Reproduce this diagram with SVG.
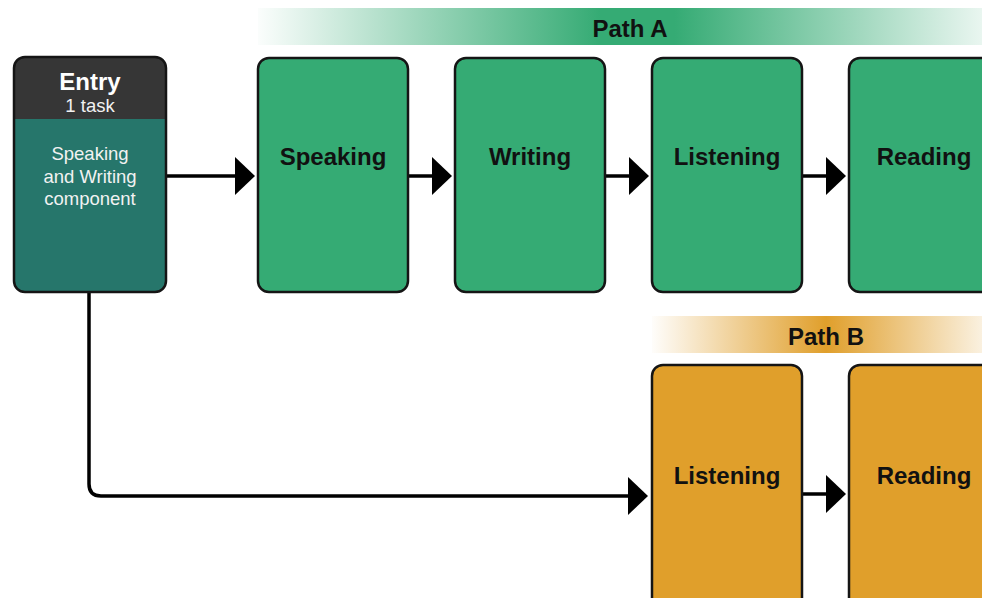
<svg xmlns="http://www.w3.org/2000/svg" width="982" height="598" viewBox="0 0 982 598">
  <style>
    .box { stroke: #151515; stroke-width: 2.5; }
    .green { fill: #35ab74; }
    .orange { fill: #e09f2b; }
    .label { font-family: "Liberation Sans", Arial, sans-serif; font-weight: bold; font-size: 24px; fill: #111; text-anchor: middle; }
    .entry-title { font-family: "Liberation Sans", Arial, sans-serif; font-weight: bold; font-size: 24px; fill: #fff; text-anchor: middle; }
    .entry-text { font-family: "Liberation Sans", Arial, sans-serif; font-size: 18.5px; fill: #f2f2f2; text-anchor: middle; }
    .link { fill: none; stroke: #000; stroke-width: 3.5; }
  </style>
  <defs>
    <linearGradient id="gradA" gradientUnits="userSpaceOnUse" x1="258" y1="0" x2="1002" y2="0">
      <stop offset="0" stop-color="#35ab74" stop-opacity="0.02"/>
      <stop offset="0.46" stop-color="#35ab74" stop-opacity="1"/>
      <stop offset="0.56" stop-color="#35ab74" stop-opacity="1"/>
      <stop offset="1" stop-color="#35ab74" stop-opacity="0.05"/>
    </linearGradient>
    <linearGradient id="gradB" gradientUnits="userSpaceOnUse" x1="652" y1="0" x2="1000" y2="0">
      <stop offset="0" stop-color="#e09f2b" stop-opacity="0.02"/>
      <stop offset="0.5" stop-color="#e09f2b" stop-opacity="1"/>
      <stop offset="1" stop-color="#e09f2b" stop-opacity="0.05"/>
    </linearGradient>
    <marker id="head" markerUnits="userSpaceOnUse" markerWidth="21" markerHeight="40" refX="0" refY="19" orient="auto" viewBox="0 0 21 40">
      <path d="M0,0 L20,19 L0,38 Z" fill="#000"/>
    </marker>
    <clipPath id="entryClip">
      <rect x="14" y="57" width="152" height="235" rx="11"/>
    </clipPath>
  </defs>

  <!-- path banners -->
  <g id="pathA">
    <rect x="258" y="8" width="744" height="37" fill="url(#gradA)"/>
    <text class="label" x="630" y="37">Path A</text>
  </g>
  <g id="pathB">
    <rect x="652" y="316" width="348" height="37" fill="url(#gradB)"/>
    <text class="label" x="826" y="345">Path B</text>
  </g>

  <!-- connectors -->
  <g id="connectors">
    <path class="link" d="M166,176 H235" marker-end="url(#head)"/>
    <path class="link" d="M408,176 H432" marker-end="url(#head)"/>
    <path class="link" d="M605,176 H629" marker-end="url(#head)"/>
    <path class="link" d="M802,176 H826" marker-end="url(#head)"/>
    <path class="link" d="M89,292 V484 Q89,496 101,496 H628" marker-end="url(#head)"/>
    <path class="link" d="M802,494 H826" marker-end="url(#head)"/>
  </g>

  <!-- entry node -->
  <g id="entry">
    <g clip-path="url(#entryClip)">
      <rect x="14" y="57" width="152" height="235" fill="#26766b"/>
      <rect x="14" y="57" width="152" height="62" fill="#363636"/>
    </g>
    <rect class="box" x="14" y="57" width="152" height="235" rx="11" fill="none"/>
    <text class="entry-title" x="90" y="90">Entry</text>
    <text class="entry-text" x="90" y="112" font-size="18">1 task</text>
    <text class="entry-text" x="90" y="160">Speaking</text>
    <text class="entry-text" x="90" y="183">and Writing</text>
    <text class="entry-text" x="90" y="205">component</text>
  </g>

  <!-- path A nodes -->
  <g id="a-speaking">
    <rect class="box green" x="258" y="58" width="150" height="234" rx="11"/>
    <text class="label" x="333" y="165">Speaking</text>
  </g>
  <g id="a-writing">
    <rect class="box green" x="455" y="58" width="150" height="234" rx="11"/>
    <text class="label" x="530" y="165">Writing</text>
  </g>
  <g id="a-listening">
    <rect class="box green" x="652" y="58" width="150" height="234" rx="11"/>
    <text class="label" x="727" y="165">Listening</text>
  </g>
  <g id="a-reading">
    <rect class="box green" x="849" y="58" width="150" height="234" rx="11"/>
    <text class="label" x="924" y="165">Reading</text>
  </g>

  <!-- path B nodes -->
  <g id="b-listening">
    <rect class="box orange" x="652" y="365" width="150" height="250" rx="11"/>
    <text class="label" x="727" y="484">Listening</text>
  </g>
  <g id="b-reading">
    <rect class="box orange" x="849" y="365" width="150" height="250" rx="11"/>
    <text class="label" x="924" y="484">Reading</text>
  </g>
</svg>
